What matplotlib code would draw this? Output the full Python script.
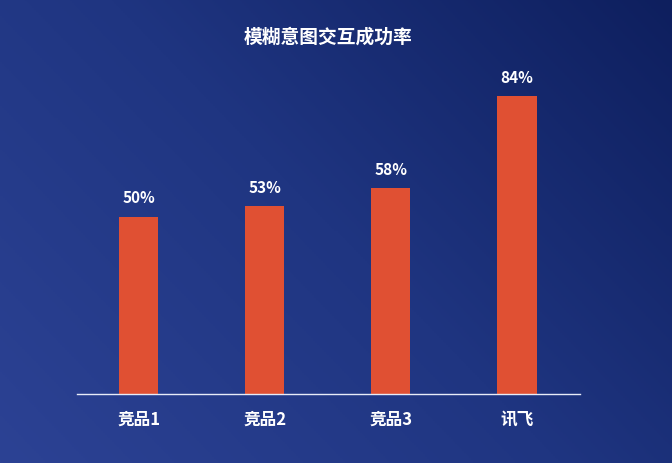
import matplotlib
matplotlib.use('Agg')
import matplotlib.pyplot as plt
import numpy as np
from matplotlib.colors import LinearSegmentedColormap

plt.rcParams['font.family'] = ['Noto Sans CJK SC', 'DejaVu Sans']

categories = ['竞品1', '竞品2', '竞品3', '讯飞']
values = [50, 53, 58, 84]
title = '模糊意图交互成功率'

fig = plt.figure(figsize=(6.72, 4.64), dpi=100)

# 背景渐变：左下偏亮蓝，右上深蓝
bg = fig.add_axes([0, 0, 1, 1])
bg.set_axis_off()
gx, gy = np.meshgrid(np.linspace(0, 1, 300), np.linspace(0, 1, 200))
grad = (gx * 0.6 + (1 - gy) * 0.4)
cmap = LinearSegmentedColormap.from_list('bg', ['#2C4294', '#1F3581', '#0E1F5E'])
bg.imshow(grad, cmap=cmap, aspect='auto', extent=[0, 1, 0, 1], origin='upper')

W, H = 672, 464
ax = fig.add_axes([77 / W, (H - 395) / H, (580 - 77) / W, (395 - 60) / H])
ax.patch.set_alpha(0)
x = np.arange(len(categories))
bars = ax.bar(x, values, width=0.31, color='#E05033', zorder=2)
ax.set_xlim(-0.49, 3.5)
ax.set_ylim(0, 335 / 3.548)

for b, v in zip(bars, values):
    ax.annotate(f'{v}%', (b.get_x() + b.get_width() / 2, v), xytext=(0, 8),
                textcoords='offset points', ha='center', va='bottom',
                color='white', fontsize=11, fontweight='bold')

for s in ['top', 'right', 'left']:
    ax.spines[s].set_visible(False)
ax.spines['bottom'].set_color('#E8ECF8')
ax.spines['bottom'].set_linewidth(1)
ax.set_yticks([])
ax.set_xticks(x)
ax.set_xticklabels(categories, color='white', fontsize=12, fontweight='bold')
ax.tick_params(axis='x', length=0, pad=11)

fig.text(328 / W, 1 - 37 / H, title, ha='center', va='center', color='white',
         fontsize=13.5, fontweight='bold')

fig.savefig('out.png', dpi=100)
